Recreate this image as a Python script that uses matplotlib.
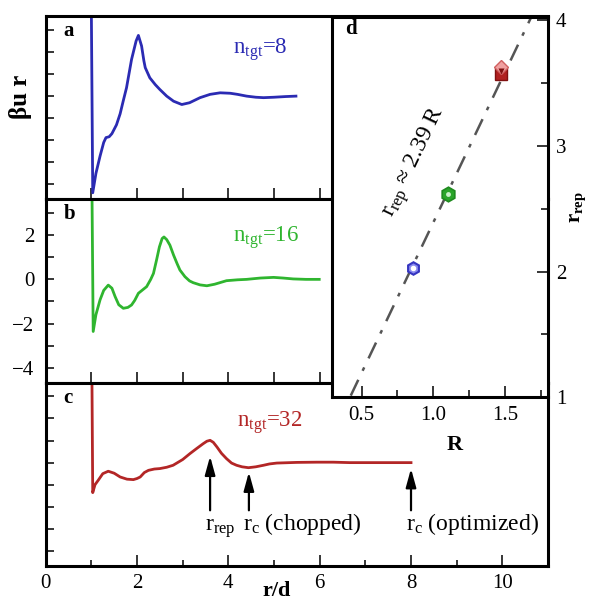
import matplotlib
matplotlib.use("Agg")
import matplotlib.pyplot as plt
import numpy as np
from matplotlib.ticker import MultipleLocator

plt.rcParams['font.family'] = ['Liberation Serif', 'DejaVu Serif']
plt.rcParams['mathtext.fontset'] = 'custom'
plt.rcParams['mathtext.rm'] = 'Liberation Serif'

# panel a : n_tgt = 8
r_a = [0.97, 1.03, 1.10, 1.19, 1.27, 1.32, 1.39, 1.45, 1.55, 1.63, 1.70, 1.77, 1.88, 1.98,
       2.03, 2.10, 2.15, 2.18, 2.28, 2.40, 2.50, 2.65, 2.80, 2.98, 3.15, 3.38, 3.60, 3.82,
       4.04, 4.20, 4.40, 4.60, 4.77, 5.00, 5.25, 5.48]
u_a = [12.0, -4.38, -3.50, -2.72, -2.10, -1.88, -1.84, -1.70, -1.30, -0.80, -0.20, 0.38,
       1.66, 2.50, 2.75, 2.27, 1.60, 1.29, 0.83, 0.52, 0.30, 0.0, -0.23, -0.38, -0.30,
       -0.07, 0.08, 0.15, 0.13, 0.08, 0.0, -0.05, -0.07, -0.05, -0.02, 0.0]

# panel b : n_tgt = 16
r_b = [0.98, 1.04, 1.10, 1.19, 1.27, 1.37, 1.45, 1.52, 1.60, 1.70, 1.80, 1.88, 1.95, 2.03,
       2.12, 2.21, 2.30, 2.36, 2.43, 2.49, 2.55, 2.59, 2.65, 2.72, 2.80, 2.88, 2.94, 3.05,
       3.15, 3.23, 3.38, 3.53, 3.70, 3.96, 4.20, 4.40, 4.70, 4.99, 5.20, 5.42, 5.70, 5.99]
u_b = [12.0, -2.36, -1.60, -0.93, -0.50, -0.26, -0.40, -0.78, -1.15, -1.31, -1.27, -1.16,
       -0.95, -0.63, -0.48, -0.33, 0.0, 0.27, 0.90, 1.47, 1.85, 1.92, 1.80, 1.55, 1.10,
       0.70, 0.42, 0.12, -0.07, -0.15, -0.25, -0.29, -0.22, -0.06, -0.02, 0.0, 0.06, 0.09,
       0.06, 0.02, 0.0, 0.0]

# panel c : n_tgt = 32
r_c = [0.985, 1.03, 1.08, 1.15, 1.25, 1.37, 1.50, 1.63, 1.78, 1.92, 2.00, 2.07, 2.16, 2.25,
       2.38, 2.50, 2.65, 2.79, 3.00, 3.16, 3.30, 3.45, 3.53, 3.60, 3.67, 3.75, 3.85, 3.96,
       4.07, 4.18, 4.30, 4.44, 4.60, 4.77, 4.90, 5.06, 5.50, 5.94, 6.30, 6.66, 7.32, 8.0]
u_c = [12.0, -1.36, -1.00, -0.80, -0.50, -0.39, -0.48, -0.65, -0.75, -0.77, -0.72, -0.65,
       -0.45, -0.35, -0.29, -0.27, -0.21, -0.12, 0.14, 0.41, 0.63, 0.86, 0.97, 1.01, 0.92,
       0.71, 0.42, 0.18, -0.02, -0.12, -0.19, -0.23, -0.19, -0.12, -0.06, -0.02, 0.01, 0.02,
       0.02, 0.0, 0.0, 0.0]

# arrows in panel c : (x, tip y)
arrow_x = [3.60, 4.45, 8.0]
arrow_tip = [0.29, -0.43, -0.27]
arrow_labels = [r'$\mathregular{r_{rep}}$', r'$\mathregular{r_c}$ (chopped)',
                r'$\mathregular{r_c}$ (optimized)']

# panel d
R_pts = [0.856, 1.104, 1.472]
rrep_pts = [2.03, 2.62, 3.60]
slope = 2.39

blue = '#2b2bb3'
green = '#2fb52f'
red = '#b32626'

fig = plt.figure(figsize=(5.89, 6.01), dpi=100)
W, H = 589.0, 601.0

left = 45.7 / W
width = (548 - 45.7) / W
tops = [16.0, 199.2, 382.5]
bots = [199.2, 382.5, 565.7]

curves = [(r_a, u_a, blue, 'a', '8'), (r_b, u_b, green, 'b', '16'), (r_c, u_c, red, 'c', '32')]
text_pos = [(260, 50), (266, 238), (270, 423)]

axes = []
for i, (x, y, col, lab, n) in enumerate(curves):
    ax = fig.add_axes([left, 1 - bots[i] / H, width, (bots[i] - tops[i]) / H])
    ax.plot(x, y, color=col, lw=2.0, solid_joinstyle='round')
    ax.set_xlim(0, 11)
    ax.set_ylim(-4.67, 3.63)
    for s in ax.spines.values():
        s.set_linewidth(2.2)
    ax.spines['right'].set_visible(i == 2)
    ax.yaxis.set_major_locator(MultipleLocator(2))
    ax.yaxis.set_minor_locator(MultipleLocator(1))
    ax.tick_params(axis='y', which='both', direction='in', length=5.5, width=1.1,
                   labelsize=15, pad=8, left=True, right=False)
    if i < 2:
        ax.xaxis.set_major_locator(MultipleLocator(1))
        ax.tick_params(axis='x', which='both', direction='in', length=8, width=1.1,
                       labelbottom=False, top=False)
    else:
        ax.xaxis.set_major_locator(MultipleLocator(2))
        ax.xaxis.set_minor_locator(MultipleLocator(1))
        ax.tick_params(axis='x', which='major', direction='in', length=8, width=1.1,
                       labelsize=15, pad=6, top=False)
        ax.tick_params(axis='x', which='minor', direction='in', length=4.5, width=1.1, top=False)
    if i != 1:
        ax.tick_params(axis='y', labelleft=False)
    ax.text(0.035, 0.89, lab, transform=ax.transAxes, fontsize=15,
            fontweight='bold', va='baseline')
    tx, ty = text_pos[i]
    fig.text(tx / W, 1 - ty / H, r'$\mathregular{n_{tgt}}$=' + n, color=col, fontsize=16.5,
             ha='center', va='center')
    axes.append(ax)

axc = axes[2]
for x, tip, lab in zip(arrow_x, arrow_tip, arrow_labels):
    axc.annotate('', xy=(x, tip), xytext=(x, -2.16),
                 arrowprops=dict(arrowstyle='-|>,head_width=0.22,head_length=0.8',
                                 color='black', lw=1.6, shrinkA=0, shrinkB=0,
                                 mutation_scale=14))
    axc.text(x - 0.12, -3.07, lab, fontsize=17, ha='left', va='baseline')

fig.text(20 / W, 1 - 97 / H, 'βu r', rotation=90, fontsize=18, fontweight='bold',
         ha='center', va='center')
fig.text(277 / W, 1 - 600.5 / H, 'r/d', fontsize=16, fontweight='bold', ha='center',
         va='bottom')

# inset d
axd = fig.add_axes([332.3 / W, 1 - 397.3 / H, (547.7 - 332.3) / W, (397.3 - 16.7) / H])
axd.set_facecolor('white')
axd.set_xlim(0.295, 1.8)
axd.set_ylim(1.0, 4.03)
for s in axd.spines.values():
    s.set_linewidth(2.2)
Rl = np.array([0.3, 1.75])
axd.plot(Rl, slope * Rl, color='#555555', lw=1.8, dashes=[7, 4, 1.5, 4])

axd.plot(R_pts[0], rrep_pts[0], marker='h', ms=9, mfc='#8a8af0', mec='#3535c0', mew=1.5, ls='none')
axd.plot(R_pts[0], rrep_pts[0], marker='o', ms=3, mfc='white', mec='white', ls='none')
axd.plot(R_pts[1], rrep_pts[1], marker='h', ms=10.5, mfc='#2aa52a', mec='#1f8a1f', mew=1.2, ls='none')
axd.plot(R_pts[1], rrep_pts[1], marker='o', ms=3.5, mfc='#c8f0c8', mec='none', ls='none')
axd.plot(R_pts[2], rrep_pts[2] - 0.03, marker='s', ms=8, mfc='#b02020', mec='#801010', ls='none')
axd.plot(R_pts[2], rrep_pts[2] + 0.03, marker='D', ms=7, mfc='#f0a0a0', mec='#d06060', ls='none')
axd.plot(R_pts[2], rrep_pts[2], marker='v', ms=4, mfc='#801010', mec='none', ls='none')

axd.text(0.872, 2.867, r'$\mathregular{r_{rep}}$ ≈ 2.39 R', fontsize=17, rotation=64.5,
         rotation_mode='anchor', ha='center', va='center')
axd.text(0.06, 0.955, 'd', transform=axd.transAxes, fontsize=15, fontweight='bold', va='baseline')

axd.xaxis.set_major_locator(MultipleLocator(0.5))
axd.xaxis.set_minor_locator(MultipleLocator(0.25))
axd.yaxis.set_major_locator(MultipleLocator(1))
axd.yaxis.set_minor_locator(MultipleLocator(0.5))
axd.tick_params(which='major', direction='in', length=8, width=1.1, labelsize=15,
                left=False, labelleft=False, right=True, labelright=True, top=False, pad=6)
axd.tick_params(which='minor', direction='in', length=5, width=1.1,
                left=False, right=True, top=False)
axd.set_xlabel('R', fontsize=16, fontweight='bold')
axd.xaxis.set_label_coords((455 - 332.3) / 215.4, -0.10)
axd.yaxis.set_label_position('right')
axd.set_ylabel(r'$\mathregular{r_{rep}}$', fontsize=15, fontweight='bold', rotation=90)
axd.yaxis.set_label_coords(1.095, 0.5)

fig.savefig('out.png', dpi=100)
